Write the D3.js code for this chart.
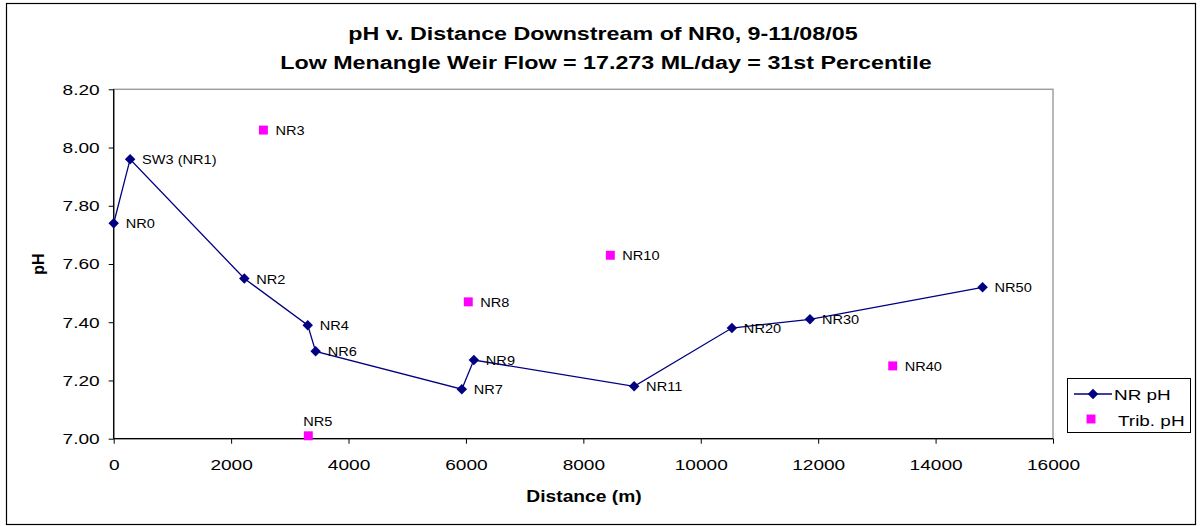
<!DOCTYPE html>
<html>
<head>
<meta charset="utf-8">
<script src="https://cdn.jsdelivr.net/npm/d3@7"></script>
<style>
  body { margin: 0; background: #fff; }
  svg { font-family: Arial, "Liberation Sans", sans-serif; }
</style>
</head>
<body>
<svg id="chart" width="1202" height="526"></svg>
<script>
// NR pH (main river sites)
var nrNames = ["NR0", "SW3 (NR1)", "NR2", "NR4", "NR6", "NR7", "NR9", "NR11", "NR20", "NR30", "NR50"];
var nrDist  = [0, 280, 2225, 3305, 3440, 5930, 6135, 8865, 10530, 11860, 14800];
var nrPH    = [7.74, 7.96, 7.55, 7.39, 7.30, 7.17, 7.27, 7.18, 7.38, 7.41, 7.52];

// Trib. pH
var tribNames = ["NR3", "NR5", "NR8", "NR10", "NR40"];
var tribDist  = [2550, 3315, 6040, 8460, 13270];
var tribPH    = [8.06, 7.01, 7.47, 7.63, 7.25];

var xTicks = [0, 2000, 4000, 6000, 8000, 10000, 12000, 14000, 16000];
var yTicks = [7.0, 7.2, 7.4, 7.6, 7.8, 8.0, 8.2];

var svg = d3.select('#chart');

var plot = { left: 113.7, right: 1053, top: 89.3, bottom: 438.7 };

var x = d3.scaleLinear().domain([0, 16000]).range([plot.left, plot.right]);
var y = d3.scaleLinear().domain([7.0, 8.2]).range([plot.bottom, plot.top]);

// the original chart's text is a bit wider than the font, stretch it
function stretch(sel, k) {
    sel.each(function() {
        var w = this.getComputedTextLength();
        d3.select(this)
            .attr('textLength', w * k)
            .attr('lengthAdjust', 'spacingAndGlyphs');
    });
}

// outer chart border
svg.append('rect')
    .attr('x', 6.5).attr('y', 3.5)
    .attr('width', 1189).attr('height', 521)
    .attr('fill', '#fff')
    .attr('stroke', '#000').attr('stroke-width', 1.2);

// plot area border (grey top/right)
svg.append('rect')
    .attr('x', plot.left).attr('y', plot.top)
    .attr('width', plot.right - plot.left).attr('height', plot.bottom - plot.top)
    .attr('fill', 'none')
    .attr('stroke', '#a0a0a0').attr('stroke-width', 1.5);

// titles
svg.append('text')
    .attr('x', 603).attr('y', 40)
    .attr('text-anchor', 'middle')
    .attr('font-weight', 'bold').attr('font-size', '17.5px')
    .text('pH v. Distance Downstream of NR0, 9-11/08/05')
    .call(stretch, 1.33);
svg.append('text')
    .attr('x', 606).attr('y', 69)
    .attr('text-anchor', 'middle')
    .attr('font-weight', 'bold').attr('font-size', '17.5px')
    .text('Low Menangle Weir Flow = 17.273 ML/day = 31st Percentile')
    .call(stretch, 1.33);

// axes
var xAxis = d3.axisBottom(x).tickValues(xTicks).tickSize(5).tickFormat(d3.format('d'));
var yAxis = d3.axisLeft(y).tickValues(yTicks).tickSize(5).tickFormat(d3.format('.2f'));

var gx = svg.append('g')
    .attr('transform', 'translate(0,' + plot.bottom + ')')
    .call(xAxis);
gx.select('.domain').attr('stroke', '#000').attr('stroke-width', 1.3).attr('d', 'M' + plot.left + ',0H' + plot.right);
gx.selectAll('.tick line').attr('stroke', '#000');
gx.selectAll('.tick text').attr('font-size', '15.5px').attr('fill', '#000').attr('dy', '1.5em')
    .attr('font-family', 'Arial, "Liberation Sans", sans-serif')
    .call(stretch, 1.23);

var gy = svg.append('g')
    .attr('transform', 'translate(' + plot.left + ',0)')
    .call(yAxis);
gy.select('.domain').attr('stroke', '#000').attr('stroke-width', 1.3).attr('d', 'M0,' + plot.top + 'V' + plot.bottom);
gy.selectAll('.tick line').attr('stroke', '#000');
gy.selectAll('.tick text').attr('font-size', '15.5px').attr('fill', '#000').attr('x', -14)
    .attr('font-family', 'Arial, "Liberation Sans", sans-serif')
    .call(stretch, 1.23);

// axis titles
svg.append('text')
    .attr('x', 584).attr('y', 502)
    .attr('text-anchor', 'middle')
    .attr('font-weight', 'bold').attr('font-size', '16px')
    .text('Distance (m)')
    .call(stretch, 1.2);

svg.append('text')
    .attr('transform', 'translate(44,264) rotate(-90)')
    .attr('text-anchor', 'middle')
    .attr('font-weight', 'bold').attr('font-size', '16px')
    .text('pH');

// NR line
var nrData = nrDist.map(function(d, i) { return { name: nrNames[i], dist: d, ph: nrPH[i] }; });
var tribData = tribDist.map(function(d, i) { return { name: tribNames[i], dist: d, ph: tribPH[i] }; });

var line = d3.line()
    .x(function(d) { return x(d.dist); })
    .y(function(d) { return y(d.ph); });

svg.append('path')
    .datum(nrData)
    .attr('d', line)
    .attr('fill', 'none')
    .attr('stroke', '#000080')
    .attr('stroke-width', 1.3);

var diamond = d3.symbol().type(d3.symbolDiamond2).size(70);
var square = d3.symbol().type(d3.symbolSquare).size(80);

svg.selectAll('.nr-pt')
    .data(nrData)
    .enter().append('path')
    .attr('class', 'nr-pt')
    .attr('d', diamond)
    .attr('transform', function(d) { return 'translate(' + x(d.dist) + ',' + y(d.ph) + ')'; })
    .attr('fill', '#000080');

svg.selectAll('.trib-pt')
    .data(tribData)
    .enter().append('path')
    .attr('class', 'trib-pt')
    .attr('d', square)
    .attr('transform', function(d) { return 'translate(' + x(d.dist) + ',' + y(d.ph) + ')'; })
    .attr('fill', '#ff00ff');

// point labels
function labelOf(d) {
    if (d.name === 'NR5') return { dx: -5, dy: -10 };
    return { dx: 12, dy: 5 };
}

svg.selectAll('.lbl')
    .data(nrData.concat(tribData))
    .enter().append('text')
    .attr('class', 'lbl')
    .attr('x', function(d) { return x(d.dist) + labelOf(d).dx; })
    .attr('y', function(d) { return y(d.ph) + labelOf(d).dy; })
    .attr('font-size', '13px')
    .attr('fill', '#000')
    .text(function(d) { return d.name; })
    .call(stretch, 1.12);

// legend
var lg = svg.append('g');
lg.append('rect')
    .attr('x', 1067.5).attr('y', 378.5)
    .attr('width', 123).attr('height', 54)
    .attr('fill', '#fff')
    .attr('stroke', '#000').attr('stroke-width', 1);
lg.append('line')
    .attr('x1', 1074).attr('x2', 1112).attr('y1', 394).attr('y2', 394)
    .attr('stroke', '#000080').attr('stroke-width', 1.3);
lg.append('path')
    .attr('d', diamond)
    .attr('transform', 'translate(1093,394)')
    .attr('fill', '#000080');
lg.append('path')
    .attr('d', square)
    .attr('transform', 'translate(1091,419)')
    .attr('fill', '#ff00ff');
lg.append('text')
    .attr('x', 1114).attr('y', 400)
    .attr('font-size', '15.5px').text('NR pH')
    .call(stretch, 1.22);
lg.append('text')
    .attr('x', 1118).attr('y', 426)
    .attr('font-size', '15.5px').text('Trib. pH')
    .call(stretch, 1.22);
</script>
</body>
</html>
